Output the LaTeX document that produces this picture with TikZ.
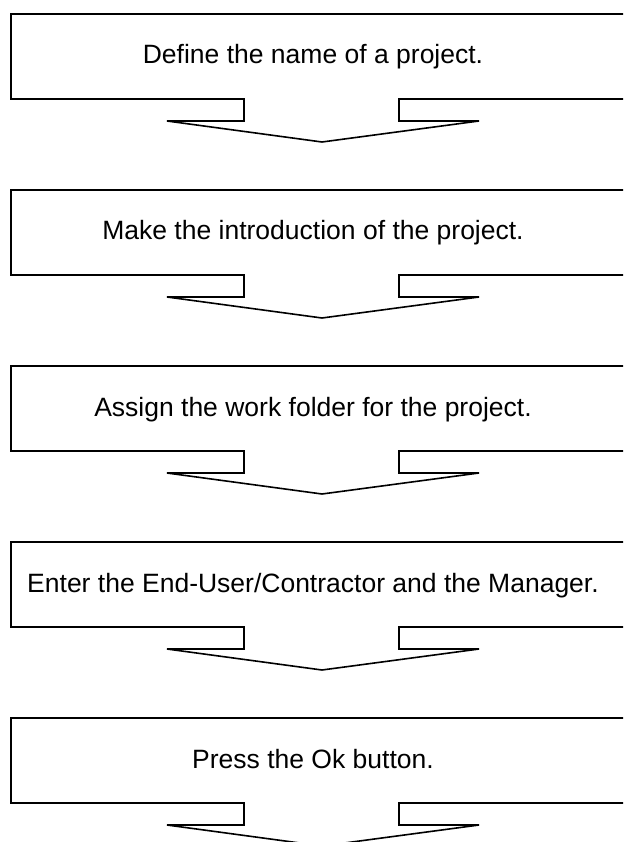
\documentclass[tikz,border=0pt]{standalone}
\usepackage{fontspec}
\setmainfont{Liberation Sans}
\tikzset{
  stepshape/.style={draw=black, line width=1.6pt, fill=white},
  steptext/.style={anchor=base, inner sep=0pt, font=\fontsize{26.5}{30}\selectfont}
}
\begin{document}
\begin{tikzpicture}[x=1pt,y=-1pt]
\useasboundingbox (0,0) rectangle (623,842);
\clip (0,0) rectangle (623,842);
\foreach \k/\txt in {0/{Define the name of a project.},
                     1/{Make the introduction of the project.},
                     2/{Assign the work folder for the project.},
                     3/{Enter the End-User/Contractor and the Manager.},
                     4/{Press the Ok button.}}{
  \pgfmathsetmacro{\T}{14+176*\k}
  \draw[stepshape] (11,\T) -- (635,\T) -- (635,\T+85) -- (399,\T+85) -- (399,\T+107)
     -- (479,\T+107) -- (322,\T+128) -- (167,\T+107) -- (244,\T+107) -- (244,\T+85)
     -- (11,\T+85) -- cycle;
  \node[steptext] (t\k) at (313,\T+50) {\txt};
}
\end{tikzpicture}
\end{document}
